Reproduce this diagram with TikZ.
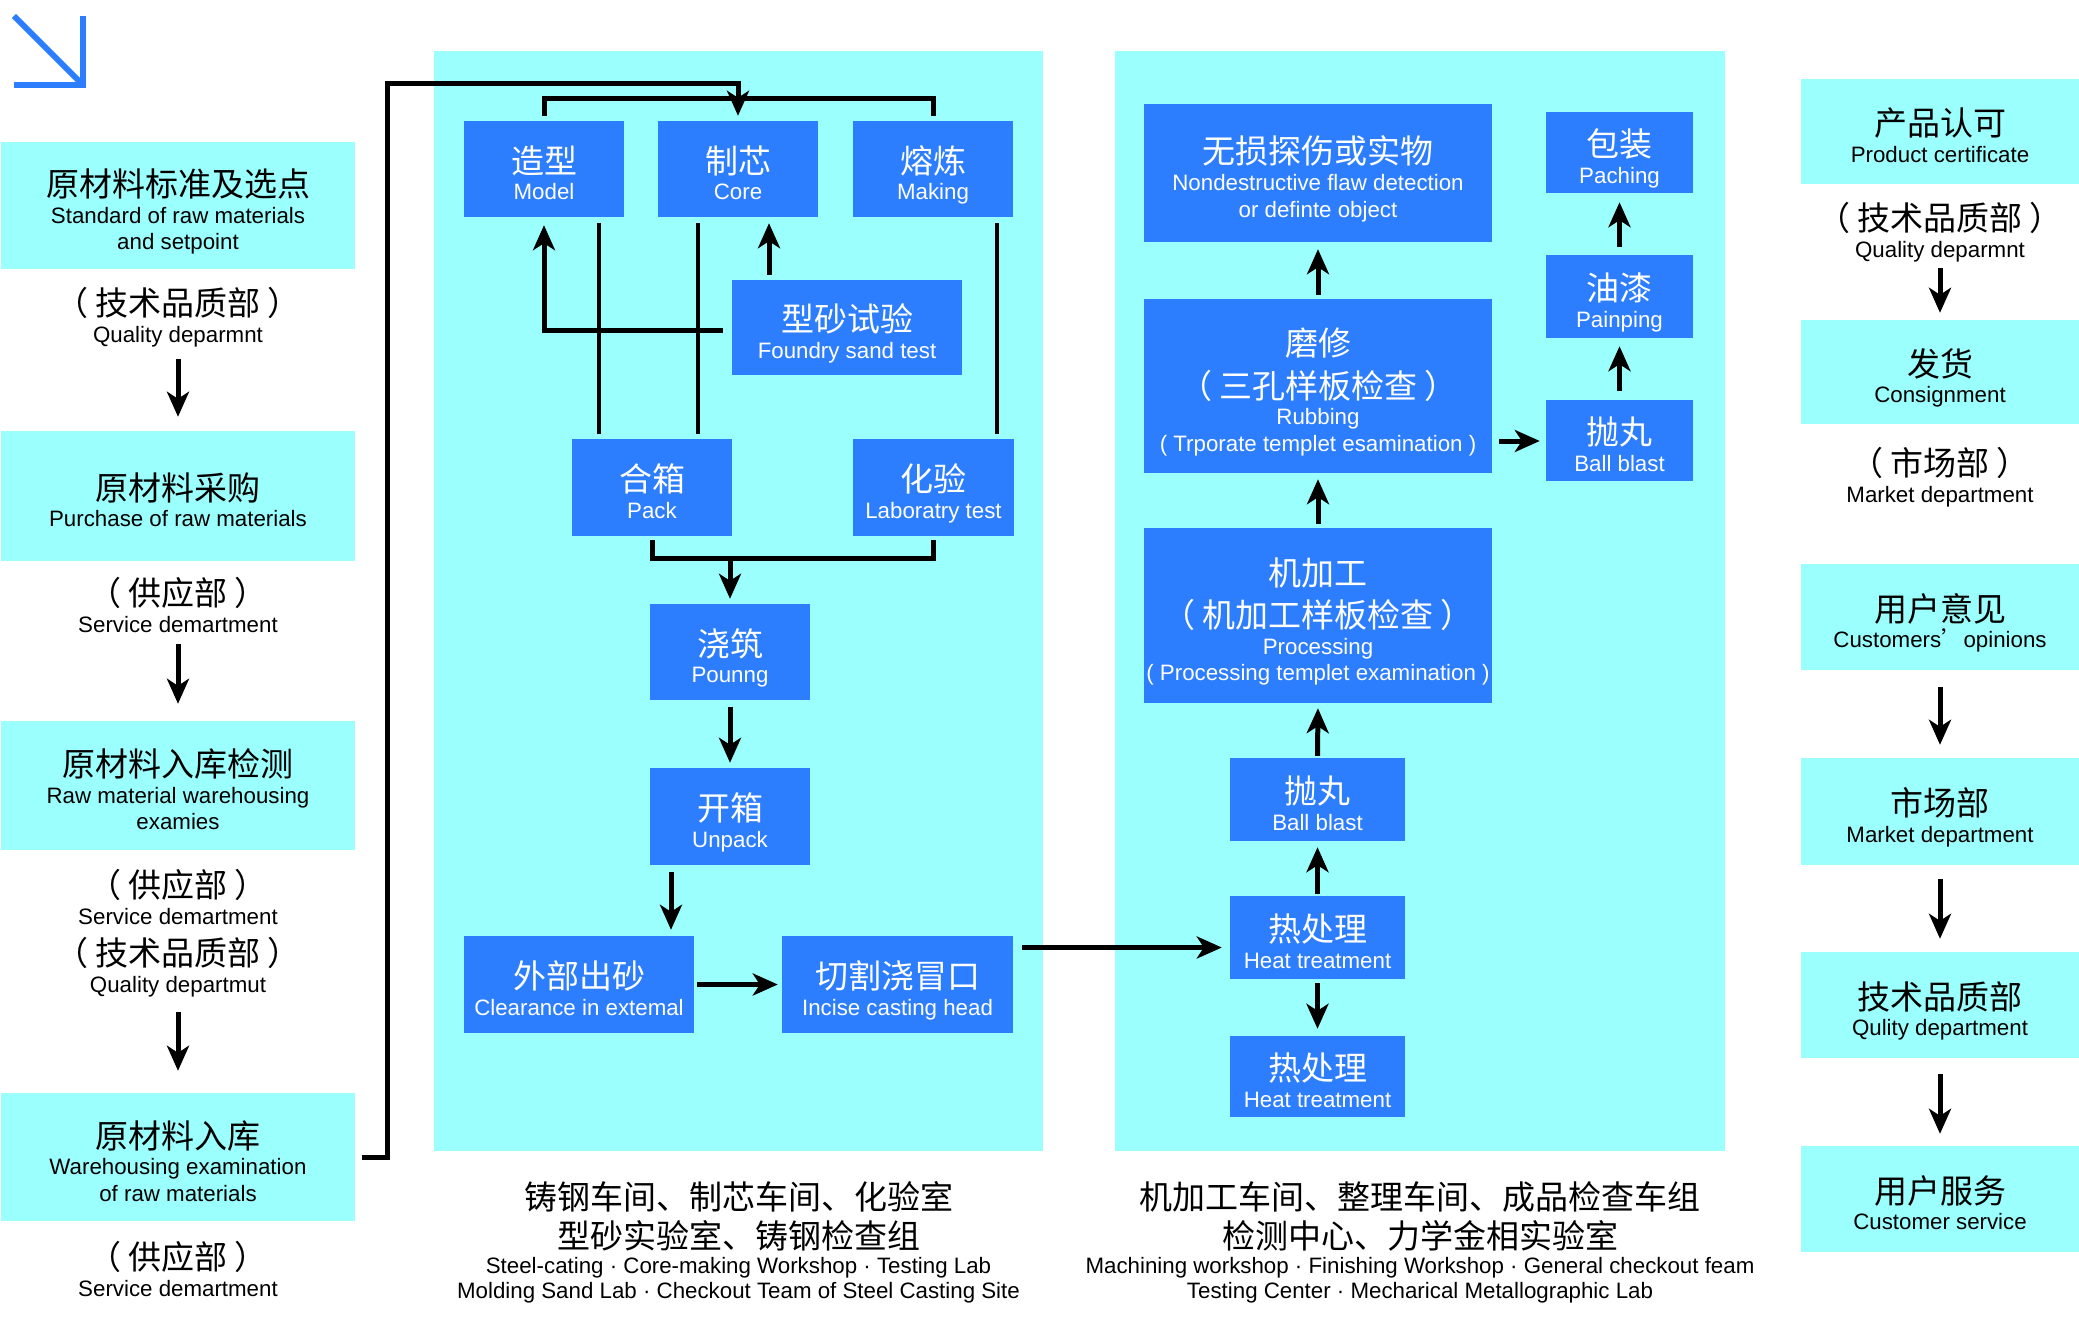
\documentclass[tikz,border=0pt]{standalone}
\usepackage{fontspec}
\setmainfont{Liberation Sans}
\newfontfamily\cjk{Noto Sans CJK SC}
\usetikzlibrary{arrows.meta,calc}
\definecolor{pale}{RGB}{155,255,253}
\definecolor{bluebox}{RGB}{45,126,255}
\newcommand{\enf}{\fontsize{22.3}{26.5}\selectfont\lineskiplimit=-100pt\relax}
\newcommand{\zh}[1]{{\cjk\fontsize{33}{26.5}\selectfont #1}}
\newcommand{\zp}[1]{{\cjk\fontsize{33}{26.5}\selectfont （\kern7pt #1\kern7pt ）}}
\newcommand{\lb}[7]{%
  \pgfmathsetmacro\bxw{#4-#2}\pgfmathsetmacro\bxh{#5-#3}%
  \node[#6,minimum width=\bxw pt,minimum height=\bxh pt] (#1) at ({(#2+#4)/2},{(#3+#5)/2}) {#7};}
\newcommand{\bx}[7]{\lb{#1}{#2}{#3}{#4}{#5}{#6}{\rule{0pt}{41pt}#7\rule[-6pt]{0pt}{6pt}}}
\tikzset{
  base/.style={align=center,inner sep=0pt,font=\enf},
  panel/.style={base,fill=pale},
  cbox/.style={base,fill=pale,text=black},
  bbox/.style={base,fill=bluebox,text=white},
  lab/.style={base,text=black},
  ln/.style={draw=black,line width=5pt},
  thinln/.style={draw=black,line width=4pt},
  arr/.style={draw=black,line width=5pt,-{Stealth[length=25pt,width=22pt,inset=7pt]}},
  corner/.style={draw=bluebox,line width=6pt}
}
\begin{document}
\begin{tikzpicture}[x=1pt,y=-1pt]
\useasboundingbox (0,0) rectangle (2079,1343);
% panels
\lb{panelA}{434}{51}{1043}{1151}{panel}{}
\lb{panelB}{1115}{51}{1725}{1151}{panel}{}
% corner mark
\draw[corner] (14,16) -- (82,84);
\draw[corner] (14,85) -- (83,85) -- (83,16);
% left column
\bx{b1}{1}{142}{355}{269}{cbox}{\zh{原材料标准及选点}\\Standard of raw materials\\and setpoint}
\lb{lq1}{1}{285}{355}{349}{lab}{\zp{技术品质部}\\Quality deparmnt}
\bx{b2}{1}{431}{355}{561}{cbox}{\zh{原材料采购}\\Purchase of raw materials}
\lb{ls1}{1}{573}{355}{637}{lab}{\zp{供应部}\\Service demartment}
\bx{b3}{1}{721}{355}{850}{cbox}{\zh{原材料入库检测}\\Raw material warehousing\\examies}
\lb{ls2}{1}{865}{355}{929}{lab}{\zp{供应部}\\Service demartment}
\lb{lq2}{1}{935}{355}{999}{lab}{\zp{技术品质部}\\Quality departmut}
\bx{b4}{1}{1093}{355}{1221}{cbox}{\zh{原材料入库}\\Warehousing examination\\of raw materials}
\lb{ls3}{1}{1237}{355}{1301}{lab}{\zp{供应部}\\Service demartment}
% casting panel
\bx{model}{464}{121}{624}{217}{bbox}{\zh{造型}\\Model}
\bx{core}{658}{121}{818}{217}{bbox}{\zh{制芯}\\Core}
\bx{making}{853}{121}{1013}{217}{bbox}{\zh{熔炼}\\Making}
\bx{foundry}{732}{280}{962}{375}{bbox}{\zh{型砂试验}\\Foundry sand test}
\bx{pack}{572}{439}{732}{536}{bbox}{\zh{合箱}\\Pack}
\bx{labt}{853}{439}{1014}{536}{bbox}{\zh{化验}\\Laboratry test}
\bx{pour}{650}{604}{810}{700}{bbox}{\zh{浇筑}\\Pounng}
\bx{unpack}{650}{768}{810}{865}{bbox}{\zh{开箱}\\Unpack}
\bx{clear}{464}{936}{694}{1033}{bbox}{\zh{外部出砂}\\Clearance in extemal}
\bx{incise}{782}{936}{1013}{1033}{bbox}{\zh{切割浇冒口}\\Incise casting head}
% machining panel
\bx{ndt}{1144}{104}{1492}{242}{bbox}{\zh{无损探伤或实物}\\Nondestructive flaw detection\\or definte object}
\bx{rub}{1144}{299}{1492}{473}{bbox}{\zh{磨修}\\[16pt]\zp{三孔样板检查}\\Rubbing\\( Trporate templet esamination )}
\bx{proc}{1144}{528}{1492}{703}{bbox}{\zh{机加工}\\[16pt]\zp{机加工样板检查}\\Processing\\( Processing templet examination )}
\bx{ballA}{1230}{758}{1405}{841}{bbox}{\zh{抛丸}\\Ball blast}
\bx{heatA}{1230}{896}{1405}{979}{bbox}{\zh{热处理}\\Heat treatment}
\bx{heatB}{1230}{1036}{1405}{1117}{bbox}{\zh{热处理}\\Heat treatment}
\bx{packg}{1546}{112}{1693}{193}{bbox}{\zh{包装}\\Paching}
\bx{paint}{1546}{255}{1693}{338}{bbox}{\zh{油漆}\\Painping}
\bx{ballB}{1546}{400}{1693}{481}{bbox}{\zh{抛丸}\\Ball blast}
% right column
\bx{r1}{1801}{79}{2079}{184}{cbox}{\zh{产品认可}\\Product certificate}
\lb{rq}{1801}{200}{2079}{264}{lab}{\zp{技术品质部}\\Quality deparmnt}
\bx{r2}{1801}{320}{2079}{424}{cbox}{\zh{发货}\\Consignment}
\lb{rm}{1801}{445}{2079}{509}{lab}{\zp{市场部}\\Market department}
\bx{r3}{1801}{564}{2079}{670}{cbox}{\zh{用户意见}\\Customers{\cjk ’}opinions}
\bx{r4}{1801}{758}{2079}{865}{cbox}{\zh{市场部}\\Market department}
\bx{r5}{1801}{952}{2079}{1058}{cbox}{\zh{技术品质部}\\Qulity department}
\bx{r6}{1801}{1146}{2079}{1252}{cbox}{\zh{用户服务}\\Customer service}
% captions
\lb{capA}{434}{1180}{1043}{1305}{lab}{\zh{铸钢车间、制芯车间、化验室}\\[12pt]\zh{型砂实验室、铸钢检查组}\\[-1pt]Steel-cating · Core-making Workshop · Testing Lab\\[-2pt]Molding Sand Lab · Checkout Team of Steel Casting Site}
\lb{capB}{1050}{1180}{1790}{1305}{lab}{\zh{机加工车间、整理车间、成品检查车组}\\[12pt]\zh{检测中心、力学金相实验室}\\[-1pt]Machining workshop · Finishing Workshop · General checkout feam\\[-2pt]Testing Center · Mecharical Metallographic Lab}
% left column arrows
\draw[arr,shorten <=10pt,shorten >=14pt] (lq1.south) -- (b2.north);
\draw[arr,shorten <=7pt,shorten >=17pt] (ls1.south) -- (b3.north);
\draw[arr,shorten <=13pt,shorten >=22pt] (lq2.south) -- (b4.north);
% feed line from the raw material store to the core box
\draw[arr,shorten <=7pt,shorten >=5pt] (b4.east) -| ([xshift=-351pt,yshift=37pt]core.north) -| (core.north);
% casting panel connectors
\draw[ln] ([yshift=5pt]model.north) -- ([yshift=22pt]model.north) -| ([yshift=5pt]making.north);
\draw[thinln,shorten <=6pt,shorten >=5pt] ([xshift=55pt]model.south) -- ([xshift=-53pt]pack.north);
\draw[thinln,shorten <=6pt,shorten >=5pt] ([xshift=-40pt]core.south) -- ([xshift=46pt]pack.north);
\draw[thinln,shorten <=6pt,shorten >=5pt] ([xshift=64pt]making.south) -- ([xshift=63.5pt]labt.north);
\draw[arr,shorten <=9pt,shorten >=8pt] ([yshift=-2.5pt]foundry.west) -| (model.south);
\draw[arr,shorten <=5pt,shorten >=6pt] ([xshift=-78pt]foundry.north) -- ([xshift=31pt]core.south);
\coordinate (packjoin) at ([yshift=-22pt]pack.south);
\draw[ln] ([yshift=-4pt]pack.south) -- (packjoin) -| ([yshift=-4pt]labt.south);
\draw[arr,shorten >=5pt] (packjoin -| pour.north) -- (pour.north);
\draw[arr,shorten <=7pt,shorten >=5pt] (pour.south) -- (unpack.north);
\draw[arr,shorten <=7pt,shorten >=6pt] ([xshift=-59pt]unpack.south) -- ([xshift=92pt]clear.north);
\draw[arr,shorten <=3pt,shorten >=4pt] (clear.east) -- (incise.west);
\draw[arr,shorten <=9pt,shorten >=8pt] ([yshift=37pt]incise.east) -- ([yshift=-10pt]heatA.west);
% machining panel connectors
\draw[arr,shorten <=4pt,shorten >=7pt] (heatA.south) -- (heatB.north) ;
\draw[arr,shorten <=2pt,shorten >=6pt] (heatA.north) -- (ballA.south);
\draw[arr,shorten <=2pt,shorten >=5pt] (ballA.north) -- (proc.south);
\draw[arr,shorten <=4pt,shorten >=6pt] (proc.north) -- (rub.south);
\draw[arr,shorten <=4pt,shorten >=7pt] (rub.north) -- (ndt.south);
\draw[arr,shorten <=7pt,shorten >=6pt] ([yshift=-55pt]rub.east) -- ([yshift=-0.5pt]ballB.west);
\draw[arr,shorten <=9pt,shorten >=8pt] (ballB.north) -- (paint.south);
\draw[arr,shorten <=8pt,shorten >=9pt] (paint.north) -- (packg.south);
% right column arrows
\draw[arr,shorten <=4pt,shorten >=7pt] (rq.south) -- (r2.north);
\draw[arr,shorten <=17pt,shorten >=13pt] (r3.south) -- (r4.north);
\draw[arr,shorten <=14pt,shorten >=13pt] (r4.south) -- (r5.north);
\draw[arr,shorten <=16pt,shorten >=12pt] (r5.south) -- (r6.north);
\end{tikzpicture}
\end{document}
